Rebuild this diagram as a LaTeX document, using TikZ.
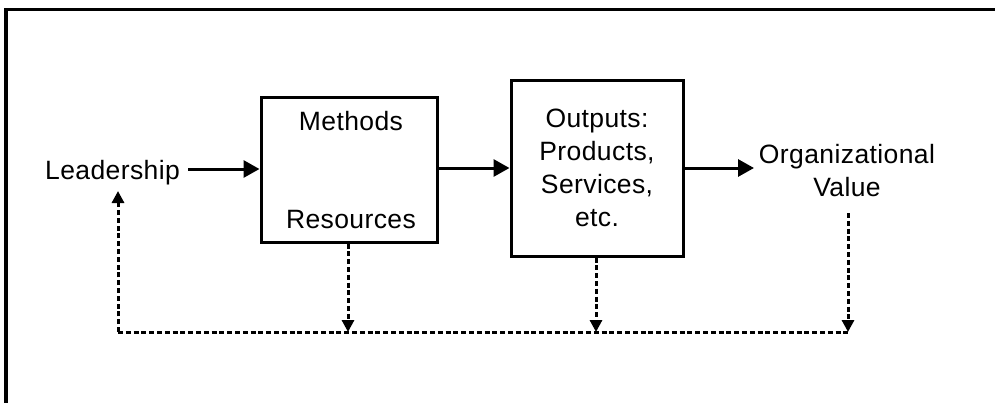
\documentclass[tikz,border=0pt]{standalone}
\usepackage{fontspec}
\setmainfont{Liberation Sans}[LetterSpace=1.5]
\usetikzlibrary{arrows.meta}
\begin{document}
\begin{tikzpicture}[x=1pt,y=-1pt,
  every node/.style={font=\fontsize{26.5}{33}\selectfont, inner sep=0pt},
  blockbox/.style={draw, line width=3pt, fill=white},
  flow/.style={line width=3pt, -{Triangle[length=16pt,width=17pt]}},
  fb/.style={line width=3pt, dash pattern=on 5pt off 2.8pt},
  fbarrow/.style={fb, -{Triangle[length=12pt,width=12pt]}}]
  \useasboundingbox (0,0) rectangle (995,402);
  \clip (0,0) rectangle (995,402);

  % frame, open to the right and bottom
  \draw[line width=3.2pt] (6,420) -- (6,9.5) -- (1010,9.5);

  % nodes
  \node[anchor=base] (lead) at (112.5,179.5) {Leadership};
  \node[blockbox, minimum width=176pt, minimum height=145pt] (mr) at (349,169.5) {};
  \node[anchor=base] (meth) at (351,130) {Methods};
  \node[anchor=base] (res) at (351,228.3) {Resources};
  \node[blockbox, minimum width=172pt, minimum height=176pt, align=center] (out) at (597,168)
    {Outputs:\\Products,\\Services,\\etc.};
  \node[align=center] (val) at (847,171) {Organizational\\Value};

  % feedback coordinates
  \coordinate (fbL) at (118,332);
  \coordinate (fbR) at (848,332);
  \coordinate (leadIn) at (118,191);
  \coordinate (valOut) at (848,213);

  % main flow
  \draw[flow] (188,169) -- (mr.west |- 0,169);
  \draw[flow] (mr.east |- 0,168) -- (out.west |- 0,168);
  \draw[flow] (out.east |- 0,168) -- (754,168);

  % feedback loop
  \draw[fb] (fbL) -- (fbR);
  \draw[fbarrow] (fbL) -- (leadIn);
  \draw[fbarrow] (mr.south -| 348,0) -- (348,332);
  \draw[fbarrow] (out.south -| 596,0) -- (596,332);
  \draw[fbarrow] (valOut) -- (fbR);
\end{tikzpicture}
\end{document}
